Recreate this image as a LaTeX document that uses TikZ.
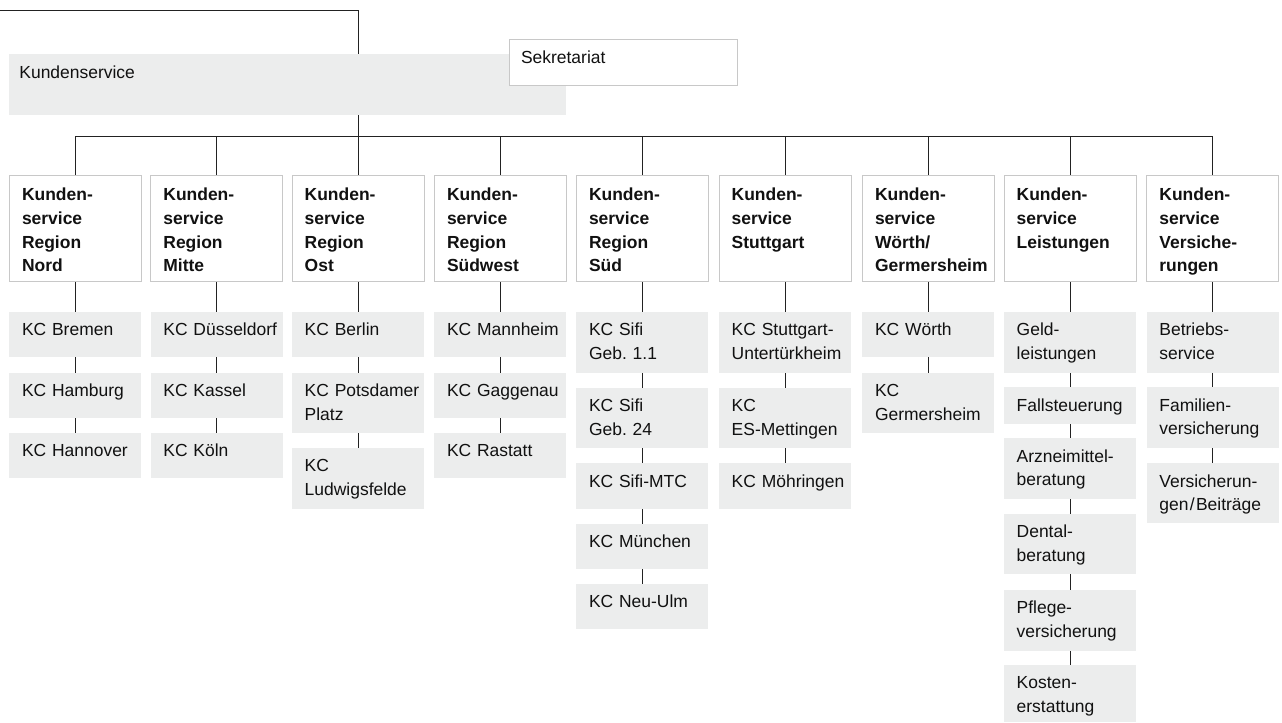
\documentclass[tikz,border=0pt]{standalone}
\usepackage{fontspec}
\setmainfont{Liberation Sans}
\usetikzlibrary{backgrounds}
\definecolor{boxgray}{HTML}{ECEDED}
\definecolor{edgegray}{HTML}{C8C8C8}
\definecolor{linecol}{HTML}{222222}
\definecolor{txtcol}{HTML}{111111}
\tikzset{
  every node/.style={inner sep=0pt, outer sep=0pt},
  hdrbox/.style={draw=edgegray, line width=0.75pt, fill=white, minimum width=99pt, minimum height=79.4pt, anchor=north west},
  subbox/.style={fill=boxgray, minimum width=99pt, anchor=north west},
  lbl/.style={anchor=base west, text width=100pt, align=left, text=txtcol, font=\fontsize{13.1}{17.8}\selectfont},
  hlbl/.style={lbl, font=\fontsize{13.1}{17.8}\selectfont\bfseries},
  conn/.style={draw=linecol, line width=0.75pt},
}
\newcommand\hdr[3]{%
  \node[hdrbox] (#1) at (#2,175.7) {};
  \node[hlbl] (#1t) at ({#2+12.7},200.7) {#3};}
\newcommand\kc[5]{%
  \node[subbox, minimum height=#4] (#1) at (#2,#3) {};
  \node[lbl] (#1t) at ({#2+12.7},{#3+23.8}) {#5};}
\begin{document}
\begin{tikzpicture}[x=0.75pt,y=-0.75pt]
\useasboundingbox (0,0) rectangle (1282,722);

% top level
\node[fill=boxgray, minimum width=418.1pt, minimum height=45.75pt, anchor=north west] (ks) at (8.7,54) {};
\node[lbl] (kst) at (19.4,78.3) {Kundenservice};
\node[draw=edgegray, line width=0.75pt, fill=white, minimum width=170.8pt, minimum height=34.3pt, anchor=north west] (sek) at (509.3,39.3) {};
\node[lbl] (sekt) at (521,63.3) {Sekretariat};

% headers
\hdr{c1}{9.3}{Kunden-\\service\\Region\\Nord}
\hdr{c2}{150.7}{Kunden-\\service\\Region\\Mitte}
\hdr{c3}{292}{Kunden-\\service\\Region\\Ost}
\hdr{c4}{434.3}{Kunden-\\service\\Region\\Südwest}
\hdr{c5}{576.3}{Kunden-\\service\\Region\\Süd}
\hdr{c6}{719}{Kunden-\\service\\Stuttgart}
\hdr{c7}{862.3}{Kunden-\\service\\Wörth/\\Germersheim}
\hdr{c8}{1004}{Kunden-\\service\\Leistungen}
\hdr{c9}{1146.7}{Kunden-\\service\\Versiche-\\rungen}

% column 1
\kc{c1a}{9.3}{312}{34.1pt}{KC Bremen}
\kc{c1b}{9.3}{372.5}{34.1pt}{KC Hamburg}
\kc{c1c}{9.3}{433}{34.1pt}{KC Hannover}
% column 2
\kc{c2a}{150.7}{312}{34.1pt}{KC Düsseldorf}
\kc{c2b}{150.7}{372.5}{34.1pt}{KC Kassel}
\kc{c2c}{150.7}{433}{34.1pt}{KC Köln}
% column 3
\kc{c3a}{292}{312}{34.1pt}{KC Berlin}
\kc{c3b}{292}{372.5}{45.5pt}{KC Potsdamer\\Platz}
\kc{c3c}{292}{448}{45.5pt}{KC\\Ludwigsfelde}
% column 4
\kc{c4a}{434.3}{312}{34.1pt}{KC Mannheim}
\kc{c4b}{434.3}{372.5}{34.1pt}{KC Gaggenau}
\kc{c4c}{434.3}{433}{34.1pt}{KC Rastatt}
% column 5
\kc{c5a}{576.3}{312}{45.5pt}{KC Sifi\\Geb.\ 1.1}
\kc{c5b}{576.3}{387.5}{45.5pt}{KC Sifi\\Geb.\ 24}
\kc{c5c}{576.3}{463.2}{34.1pt}{KC Sifi-MTC}
\kc{c5d}{576.3}{523.5}{34.1pt}{KC München}
\kc{c5e}{576.3}{584}{34.1pt}{KC Neu-Ulm}
% column 6
\kc{c6a}{719}{312}{45.5pt}{KC Stuttgart-\\Untertürkheim}
\kc{c6b}{719}{387.5}{45.5pt}{KC\\ES-Mettingen}
\kc{c6c}{719}{463.2}{34.1pt}{KC Möhringen}
% column 7
\kc{c7a}{862.3}{312}{34.1pt}{KC Wörth}
\kc{c7b}{862.3}{372.5}{45.5pt}{KC\\Germersheim}
% column 8
\kc{c8a}{1004}{312}{45.5pt}{Geld-\\leistungen}
\kc{c8b}{1004}{387.3}{27.75pt}{Fallsteuerung}
\kc{c8c}{1004}{438.3}{45.3pt}{Arzneimittel-\\beratung}
\kc{c8d}{1004}{513.5}{45.6pt}{Dental-\\beratung}
\kc{c8e}{1004}{589.5}{46.1pt}{Pflege-\\versicherung}
\kc{c8f}{1004}{665}{42.75pt}{Kosten-\\erstattung}
% column 9
\kc{c9a}{1146.7}{312}{45.5pt}{Betriebs-\\service}
\kc{c9b}{1146.7}{387.3}{45.5pt}{Familien-\\versicherung}
\kc{c9c}{1146.7}{463.3}{45.0pt}{Versicherun-\\gen\kern1pt/\kern1pt Beiträge}

\begin{pgfonlayer}{background}
  \coordinate (tl) at (0,10.7);
  \coordinate (bar) at (75.3,136.7);
  \draw[conn] (tl) -| (c3.north);
  \draw[conn] (c1.north) |- (c9.north |- bar) -- (c9.north);
  \foreach \c in {c2,c4,c5,c6,c7,c8}
    \draw[conn] (\c.north) -- (\c.north |- bar);
  \foreach \a/\b in {c1/c1a,c1a/c1b,c1b/c1c,
                     c2/c2a,c2a/c2b,c2b/c2c,
                     c3/c3a,c3a/c3b,c3b/c3c,
                     c4/c4a,c4a/c4b,c4b/c4c,
                     c5/c5a,c5a/c5b,c5b/c5c,c5c/c5d,c5d/c5e,
                     c6/c6a,c6a/c6b,c6b/c6c,
                     c7/c7a,c7a/c7b,
                     c8/c8a,c8a/c8b,c8b/c8c,c8c/c8d,c8d/c8e,c8e/c8f,
                     c9/c9a,c9a/c9b,c9b/c9c}
    \draw[conn] (\a.south) -- (\b.north);
\end{pgfonlayer}
\end{tikzpicture}
\end{document}
